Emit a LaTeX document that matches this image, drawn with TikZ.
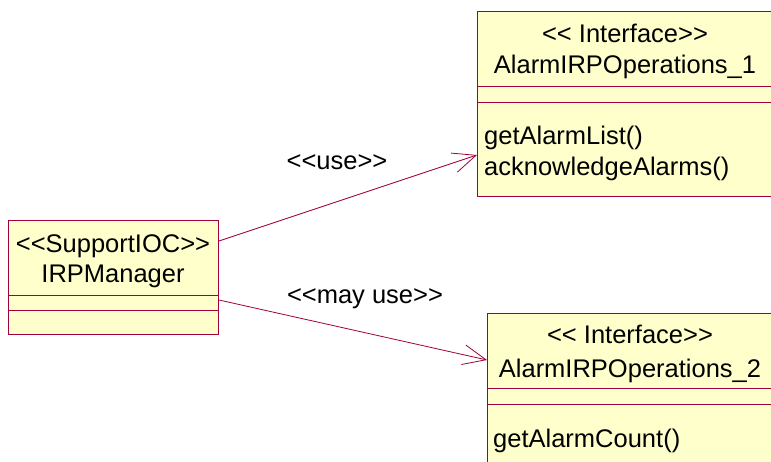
\documentclass[tikz,border=0pt]{standalone}
\usepackage{fontspec}
\setmainfont{Liberation Sans}
\usetikzlibrary{arrows.meta}
\definecolor{umlline}{RGB}{160,0,60}
\definecolor{umlfill}{RGB}{255,255,204}
\newcommand{\lt}{<{}<}
\newcommand{\gt}{>{}>}
\begin{document}
\begin{tikzpicture}[x=1pt,y=-1pt,
  classbox/.style={draw=umlline,fill=umlfill,line width=1pt,rectangle,inner sep=0pt,anchor=north west},
  divider/.style={draw=umlline,line width=0.9pt},
  txt/.style={font=\fontsize{25.5}{31}\selectfont,inner sep=0pt,anchor=base,text=black},
  optxt/.style={txt,anchor=base west},
  dep/.style={draw=umlline,line width=0.8pt,-{Straight Barb[length=23pt,width=20pt,line width=0.8pt]}}]
\useasboundingbox (0,0) rectangle (771,462);
% IRPManager
\node[classbox,minimum width=210pt,minimum height=114pt] (m) at (8,220) {};
\draw[divider] (8,295) -- (218,295);
\draw[divider] (8,310) -- (218,310);
\node[txt] (m1) at (113,253) {\lt SupportIOC\gt};
\node[txt] (m2) at (113,283) {IRPManager};
% AlarmIRPOperations_1
\node[classbox,minimum width=310pt,minimum height=185pt] (a) at (477,11) {};
\draw[divider] (477,86) -- (787,86);
\draw[divider] (477,102) -- (787,102);
\node[txt] (a1) at (625,43) {\lt{} Interface\gt};
\node[txt] (a2) at (625,74) {AlarmIRPOperations\_1};
\node[optxt] (a3) at (484,145) {getAlarmList()};
\node[optxt] (a4) at (484,176) {acknowledgeAlarms()};
% AlarmIRPOperations_2
\node[classbox,minimum width=300pt,minimum height=160pt] (b) at (487,313) {};
\draw[divider] (487,388) -- (787,388);
\draw[divider] (487,404) -- (787,404);
\node[txt] (b1) at (630,343) {\lt{} Interface\gt};
\node[txt] (b2) at (630,377) {AlarmIRPOperations\_2};
\node[optxt] (b3) at (493,447) {getAlarmCount()};
% connectors
\coordinate (s1) at (m.north east |- 0,241);
\coordinate (e1) at (a.north west |- 0,155);
\coordinate (s2) at (m.north east |- 0,300);
\coordinate (e2) at (b.north west |- 0,360);
\draw[dep] (s1) -- (e1);
\draw[dep] (s2) -- (e2);
\node[txt] (l1) at (337,170) {\lt use\gt};
\node[txt] (l2) at (365,304) {\lt may use\gt};
\end{tikzpicture}
\end{document}
